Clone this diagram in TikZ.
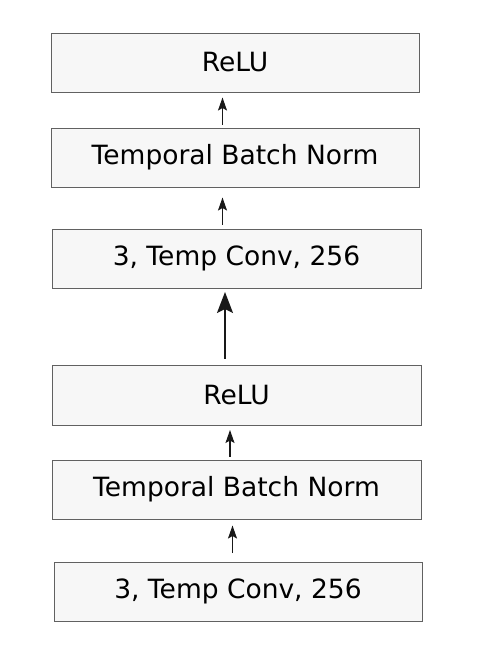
\documentclass[tikz,border=0pt]{standalone}
\usepackage{fontspec}
\setmainfont{DejaVu Sans}
\usetikzlibrary{arrows.meta}

\tikzset{
    layer/.style={draw=black!62, fill=black!3, line width=1pt, minimum height=59pt,
        inner sep=0pt, font=\fontsize{26.5}{31}\selectfont},
    flow/.style={-{Stealth[length=13pt,width=9pt,inset=2.5pt]}, line width=1.1pt, black!90},
    bigflow/.style={-{Stealth[length=21pt,width=16pt,inset=4pt]}, line width=1.6pt, black!90}
}

\begin{document}
\begin{tikzpicture}[x=1pt,y=-1pt]
    \path[use as bounding box] (0,0) rectangle (484,654);

    \node[layer, minimum width=368pt] (relua) at (235,62.5)   {ReLU};
    \node[layer, minimum width=368pt] (norma) at (235,157.5)  {Temporal Batch Norm};
    \node[layer, minimum width=369pt] (conva) at (236.5,258.5) {3, Temp Conv, 256};

    \node[layer, minimum width=369pt, minimum height=60pt] (relub) at (236.5,395) {ReLU};
    \node[layer, minimum width=369pt] (normb) at (236.5,489.5) {Temporal Batch Norm};
    \node[layer, minimum width=368pt] (convb) at (238,591.5)   {3, Temp Conv, 256};

    \draw[flow] ([xshift=-12.5pt,yshift=3pt]norma.north) -- ([xshift=-12.5pt,yshift=-5pt]relua.south);
    \draw[flow] ([xshift=-14pt,yshift=4pt]conva.north) -- ([xshift=-12.5pt,yshift=-10pt]norma.south);
    \draw[bigflow] ([xshift=-11.5pt,yshift=6pt]relub.north) -- ([xshift=-11.5pt,yshift=-3.5pt]conva.south);
    \draw[flow] ([xshift=-6.5pt,yshift=3pt]normb.north) -- ([xshift=-6.5pt,yshift=-4.5pt]relub.south);
    \draw[flow] ([xshift=-5.5pt,yshift=8.5pt]convb.north) -- ([xshift=-4pt,yshift=-6pt]normb.south);
\end{tikzpicture}
\end{document}
